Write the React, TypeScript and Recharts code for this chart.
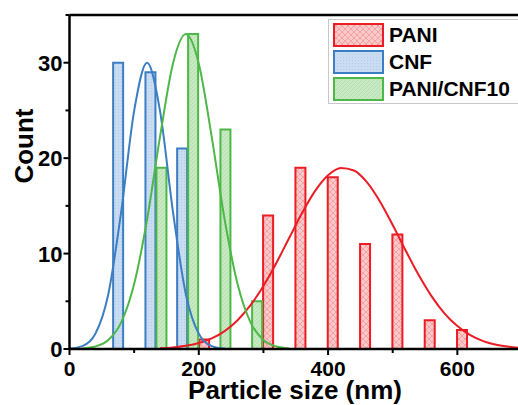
import { ComposedChart, Bar, Line, XAxis, YAxis, ReferenceLine } from "recharts";

// --- histogram bins (bin centre in nm, count) ---
const cnfBinX = [76, 126, 175];
const cnfCounts = [30, 29, 21];
const mixBinX = [143, 192, 242, 291];
const mixCounts = [19, 33, 23, 5];
const paniBinX = [209, 308, 358, 408, 458, 508, 558, 608];
const paniCounts = [1, 14, 19, 18, 11, 12, 3, 2];

// --- fitted distribution curves ---
const cnfFitX = [0, 20, 40, 60, 80, 100, 120, 140, 160, 180, 200, 220, 240];
const cnfFitY = [0.04, 0.3, 1.59, 5.74, 14.39, 24.96, 30, 24.96, 14.39, 5.74, 1.59, 0.3, 0.04];
const mixFitX = [20, 40, 60, 80, 100, 120, 140, 160, 180, 200, 220, 240, 260, 280, 300, 320, 340];
const mixFitY = [0.06, 0.26, 0.94, 2.79, 6.8, 13.57, 22.23, 29.9, 33, 29.9, 22.23, 13.57, 6.8, 2.79, 0.94, 0.26, 0.06];
const paniFitX = [140, 160, 180, 200, 220, 240, 260, 280, 300, 320, 340, 360, 380, 400, 420, 440, 460, 480, 500, 520, 540, 560, 580, 600, 620, 640, 660, 680, 700];
const paniFitY = [0.08, 0.16, 0.33, 0.62, 1.11, 1.88, 3.02, 4.59, 6.61, 9.02, 11.66, 14.28, 16.57, 18.21, 18.97, 18.71, 17.49, 15.49, 12.99, 10.32, 7.77, 5.54, 3.74, 2.4, 1.45, 0.83, 0.45, 0.23, 0.11];

// --- axes ---
const xTicks = [0, 100, 200, 300, 400, 500, 600, 700];
const xLabels = [0, 200, 400, 600];
const yTicks = [0, 5, 10, 15, 20, 25, 30, 35];
const yLabels = [0, 10, 20, 30];

const seriesNames = ["PANI", "CNF", "PANI/CNF10"];

const RED = "#ec1c24";
const BLUE = "#3b7ec3";
const GREEN = "#4db848";
const FONT = "'Liberation Sans', Arial, sans-serif";

const bins = [
  ...paniBinX.map((x, i) => ({ x, pani: paniCounts[i] })),
  ...cnfBinX.map((x, i) => ({ x, cnf: cnfCounts[i] })),
  ...mixBinX.map((x, i) => ({ x, mix: mixCounts[i] })),
].sort((a, b) => a.x - b.x);

const cnfFit = cnfFitX.map((x, i) => ({ x, y: cnfFitY[i] }));
const mixFit = mixFitX.map((x, i) => ({ x, y: mixFitY[i] }));
const paniFit = paniFitX.map((x, i) => ({ x, y: paniFitY[i] }));

const XTick = (props: any) => {
  const { x, y, payload } = props;
  const major = xLabels.includes(payload.value);
  return (
    <g>
      <line x1={x} x2={x} y1={y} y2={y + (major ? 6 : 4)} stroke="#000" strokeWidth={2} />
      {major && (
        <text x={x} y={y + 27} textAnchor="middle" fontSize={21} fontWeight={700} fontFamily={FONT} fill="#000">
          {payload.value}
        </text>
      )}
    </g>
  );
};

const YTick = (props: any) => {
  const { x, y, payload } = props;
  const major = yLabels.includes(payload.value);
  return (
    <g>
      <line x1={x} x2={x - (major ? 6 : 4)} y1={y} y2={y} stroke="#000" strokeWidth={2} />
      {major && (
        <text x={x - 7} y={y + 8} textAnchor="end" fontSize={22} fontWeight={700} fontFamily={FONT} fill="#000">
          {payload.value}
        </text>
      )}
    </g>
  );
};

const XTitle = () => (
  <text x={295} y={399} textAnchor="middle" fontSize={26} fontWeight={700} fontFamily={FONT} fill="#000">
    Particle size (nm)
  </text>
);

const YTitle = () => (
  <text x={33} y={146} transform="rotate(-90 33 146)" textAnchor="middle" fontSize={26} fontWeight={700} fontFamily={FONT} fill="#000">
    Count
  </text>
);

const Patterns = () => (
  <svg width={0} height={0} style={{ position: "absolute" }}>
    <defs>
      <pattern id="hatchRed" patternUnits="userSpaceOnUse" width={6} height={6}>
        <rect width={6} height={6} fill="#fac9ca" />
        <path d="M0,0 L6,6 M6,0 L0,6" stroke="#ea5a5e" strokeWidth={0.6} opacity={0.6} />
      </pattern>
      <pattern id="dotBlue" patternUnits="userSpaceOnUse" width={3} height={3}>
        <rect width={3} height={3} fill="#c9dcf1" />
        <circle cx={1.5} cy={1.5} r={0.5} fill="#aac6e6" />
      </pattern>
      <pattern id="lineGreen" patternUnits="userSpaceOnUse" width={4} height={4}>
        <rect width={4} height={4} fill="#c9e9c5" />
        <path d="M0,4 L4,0" stroke="#addca7" strokeWidth={0.8} />
      </pattern>
    </defs>
  </svg>
);

const legendItems = [
  { name: seriesNames[0], stroke: RED, fill: "url(#hatchRed)" },
  { name: seriesNames[1], stroke: BLUE, fill: "url(#dotBlue)" },
  { name: seriesNames[2], stroke: GREEN, fill: "url(#lineGreen)" },
];

const LegendBox = () => (
  <div
    style={{
      position: "absolute",
      left: 328,
      top: 19,
      width: 220,
      height: 85,
      border: "1.5px solid #c8c8c8",
      background: "#fff",
      boxSizing: "border-box",
    }}
  >
    {legendItems.map((item, i) => (
      <div key={item.name} style={{ position: "absolute", left: 4, top: 3 + i * 27, height: 24, display: "flex", alignItems: "center" }}>
        <svg width={51} height={24}>
          <rect x={1} y={1} width={49} height={22} fill={item.fill} stroke={item.stroke} strokeWidth={2} />
        </svg>
        <span style={{ marginLeft: 5, fontFamily: FONT, fontWeight: 700, fontSize: 21, color: "#000", lineHeight: "24px" }}>
          {item.name}
        </span>
      </div>
    ))}
  </div>
);

export default function App() {
  return (
    <div style={{ position: "fixed", left: 0, top: 0, width: 518, height: 405, overflow: "hidden", background: "#fff" }}>
      <Patterns />
      <ComposedChart width={540} height={405} data={bins} margin={{ top: 15, right: 18, left: 0, bottom: 0 }}>
        <XAxis
          dataKey="x"
          type="number"
          domain={[0, 700]}
          ticks={xTicks}
          interval={0}
          height={56}
          tickSize={0}
          tickMargin={0}
          tickLine={false}
          tick={<XTick />}
          axisLine={{ stroke: "#000", strokeWidth: 2.5 }}
          label={<XTitle />}
        />
        <XAxis xAxisId="fit" dataKey="x" type="number" domain={[0, 700]} hide />
        <YAxis
          type="number"
          domain={[0, 35]}
          ticks={yTicks}
          interval={0}
          width={69.5}
          tickSize={0}
          tickMargin={0}
          tickLine={false}
          tick={<YTick />}
          axisLine={{ stroke: "#000", strokeWidth: 2.5 }}
          label={<YTitle />}
        />
        <ReferenceLine y={35} stroke="#000" strokeWidth={2.5} />
        <ReferenceLine x={700} stroke="#000" strokeWidth={2.5} />
        <Bar dataKey="pani" stackId="h" barSize={10} fill="url(#hatchRed)" stroke={RED} strokeWidth={2} isAnimationActive={false} />
        <Bar dataKey="cnf" stackId="h" barSize={10} fill="url(#dotBlue)" stroke={BLUE} strokeWidth={2} isAnimationActive={false} />
        <Bar dataKey="mix" stackId="h" barSize={10} fill="url(#lineGreen)" stroke={GREEN} strokeWidth={2} isAnimationActive={false} />
        <Line xAxisId="fit" data={paniFit} dataKey="y" type="monotone" stroke={RED} strokeWidth={2} dot={false} isAnimationActive={false} />
        <Line xAxisId="fit" data={cnfFit} dataKey="y" type="monotone" stroke={BLUE} strokeWidth={2} dot={false} isAnimationActive={false} />
        <Line xAxisId="fit" data={mixFit} dataKey="y" type="monotone" stroke={GREEN} strokeWidth={2} dot={false} isAnimationActive={false} />
      </ComposedChart>
      <LegendBox />
    </div>
  );
}
